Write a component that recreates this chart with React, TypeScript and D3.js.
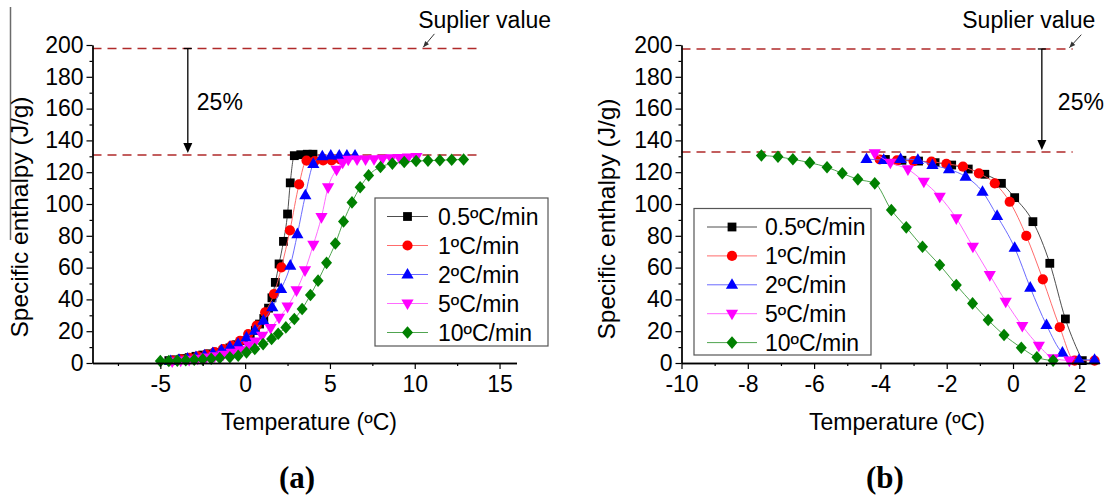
import React, { useEffect, useRef } from "react";
import * as d3 from "d3";

const seriesNames = ["0.5ºC/min", "1ºC/min", "2ºC/min", "5ºC/min", "10ºC/min"];
const markerColors = ["#000000", "#ff0000", "#0000ff", "#ff00ff", "#008000"];
const lineColors = ["#3a3a3a", "#ff5a5a", "#5a5aff", "#ff5aff", "#3c9a3c"];
const markerKinds = ["square", "circle", "triangleUp", "triangleDown", "diamond"];

// Panel (a): heating curves
const aTemp05 = [-4.5, -4.1, -3.7, -3.3, -2.9, -2.5, -2.1, -1.7, -1.3, -0.9, -0.5, -0.1, 0.3, 0.6, 0.85, 1.1, 1.38, 1.58, 1.78, 2.0, 2.26, 2.5, 2.66, 2.9, 3.28, 3.66, 4.0];
const aEnth05 = [1.5, 2, 2.8, 3.4, 4.2, 5, 5.8, 6.7, 7.8, 9.5, 11.5, 14, 17, 20.5, 24.5, 28, 34.5, 41, 50.7, 62.3, 76.5, 93.7, 113.3, 130.4, 131, 131.3, 131.3];
const aTemp1 = [-4.3, -3.8, -3.3, -2.8, -2.3, -1.8, -1.3, -0.8, -0.3, 0.18, 0.68, 1.18, 1.7, 2.14, 2.64, 3.18, 3.62, 4.1, 4.6, 5.1, 5.6];
const aEnth1 = [1.5, 2.3, 3.2, 4.2, 5.3, 6.8, 8.7, 11, 14, 18.2, 23.5, 31.9, 43.4, 60.2, 83.4, 112.4, 127.3, 127, 127.5, 127.5, 128];
const aTemp2 = [-4.4, -3.9, -3.4, -2.9, -2.4, -1.9, -1.4, -0.9, -0.42, 0.08, 0.58, 1.08, 1.6, 2.12, 2.66, 3.08, 3.55, 4.02, 4.55, 5.05, 5.55, 6.0, 6.48];
const aEnth2 = [1.2, 2, 2.8, 3.7, 4.8, 6.2, 8, 10, 12, 16, 20.3, 26.6, 35, 46.5, 61.2, 81, 105.5, 125.2, 130, 130.5, 130.5, 130.5, 130.5];
const aTemp5 = [-4.3, -3.8, -3.3, -2.8, -2.3, -1.8, -1.3, -0.8, -0.3, 0.2, 0.6, 1.0, 1.5, 2.0, 2.5, 3.03, 3.53, 4.02, 4.5, 4.89, 5.39, 5.75, 6.08, 6.6, 7.1, 7.6, 8.1, 8.6, 9.1, 9.6, 10.1];
const aEnth5 = [1, 1.5, 2, 2.7, 3.4, 4.2, 5.2, 6.5, 8, 11, 13.5, 17.2, 22, 28.5, 35.5, 45.7, 58.3, 74.3, 91.8, 110.5, 121.6, 126, 127.9, 128, 128, 128.2, 128.5, 128.7, 129, 129.2, 129.5];
const aTemp10 = [-5.0, -4.5, -4.0, -3.5, -3.0, -2.5, -2.0, -1.5, -0.9, -0.41, 0.08, 0.57, 1.06, 1.56, 1.95, 2.4, 2.9, 3.36, 3.85, 4.3, 4.8, 5.32, 5.8, 6.3, 6.78, 7.28, 7.98, 8.68, 9.38, 10.08, 10.78, 11.48, 12.18, 12.88];
const aEnth10 = [1.2, 1.3, 1.5, 1.7, 2, 2.3, 2.7, 3.1, 3.6, 4.6, 6.7, 8.8, 11.9, 15.1, 18.4, 22.4, 27.7, 34, 42.8, 51.8, 63, 75.2, 89, 101, 110.5, 118, 123.3, 125.4, 126.4, 127, 127.3, 127.5, 127.8, 128];

// Panel (b): cooling curves
const bTemp05 = [-3.85, -3.35, -2.85, -2.35, -1.85, -1.35, -0.85, -0.35, 0.05, 0.6, 1.11, 1.58, 2.09];
const bEnth05 = [128, 127.5, 127, 126, 124.5, 122, 118.7, 113, 104, 88.9, 62.7, 27.7, 1.5];
const bTemp1 = [-4.02, -3.5, -3.0, -2.46, -2.01, -1.51, -1.03, -0.55, -0.1, 0.4, 0.9, 1.41, 1.86, 2.46];
const bEnth1 = [128, 127.5, 127, 126.6, 125.2, 123.5, 119.3, 113, 101.4, 79.9, 52.6, 22.5, 1.5, 1.5];
const bTemp2 = [-4.42, -3.9, -3.39, -2.87, -2.43, -1.93, -1.43, -0.92, -0.48, 0.05, 0.52, 1.01, 1.49, 1.99, 2.46];
const bEnth2 = [128.3, 127.7, 128.3, 127.7, 124.5, 121.8, 117.2, 107.7, 92.5, 72.5, 47.4, 23.9, 6.5, 2, 2];
const bTemp5 = [-4.17, -3.7, -3.17, -2.69, -2.21, -1.71, -1.21, -0.7, -0.22, 0.28, 0.78, 1.21, 1.7];
const bEnth5 = [131.9, 126, 121.8, 114, 104.6, 91, 73.1, 55.3, 38.6, 23.3, 10.9, 3, 1.5];
const bTemp10 = [-7.59, -7.09, -6.64, -6.13, -5.61, -5.15, -4.68, -4.17, -3.67, -3.22, -2.73, -2.21, -1.71, -1.22, -0.75, -0.27, 0.25, 0.72, 1.21];
const bEnth10 = [130.5, 129.7, 128.1, 126, 123.1, 119.3, 115.5, 113, 96.2, 85.3, 73.1, 61.6, 49, 37.5, 27, 17.6, 9.6, 3.6, 1.5];

const yTicks = [0, 20, 40, 60, 80, 100, 120, 140, 160, 180, 200];
const yMinorTicks = [10, 30, 50, 70, 90, 110, 130, 150, 170, 190];
const aXTicks = [-5, 0, 5, 10, 15];
const aXMinorTicks = [-7.5, -2.5, 2.5, 7.5, 12.5];
const bXTicks = [-10, -8, -6, -4, -2, 0, 2];
const bXMinorTicks = [-9, -7, -5, -3, -1, 1];

const supplierValues = [197.8, 197.5];
const plateauValues = [130.8, 132.7];
const reductionLabel = "25%";
const supplierLabel = "Suplier value";
const panelLabels = ["(a)", "(b)"];
const xTitle = "Temperature (ºC)";
const yTitle = "Specific enthalpy (J/g)";

const FONT = "'Liberation Sans', Arial, Helvetica, sans-serif";

function markerPath(kind: string): string {
  switch (kind) {
    case "square":
      return "M-4.4,-4.4H4.4V4.4H-4.4Z";
    case "circle":
      return d3.symbol(d3.symbolCircle, Math.PI * 5.1 * 5.1)() as string;
    case "triangleUp":
      return "M0,-6.6L6.1,4L-6.1,4Z";
    case "triangleDown":
      return "M0,6.6L6.1,-4L-6.1,-4Z";
    default:
      return "M0,-6.3L5.5,0L0,6.3L-5.5,0Z";
  }
}

const panels = [
  {
    xDomain: [-9, 16],
    xRange: [92.5, 516.5],
    xTicks: aXTicks,
    xMinor: aXMinorTicks,
    temps: [aTemp05, aTemp1, aTemp2, aTemp5, aTemp10],
    enths: [aEnth05, aEnth1, aEnth2, aEnth5, aEnth10],
    dashEnd: 13.85,
    arrowX: -3.38,
    pctDx: 9,
    supplierTextX: 10.2,
    pointerFrom: [11.16, 207],
    pointerTo: [10.5, 198.6],
    legend: { x0: 375, x1: 548, y0: 198, y1: 346, lx0: 387, lx1: 428, tx: 438, r0: 216.5, dr: 29 },
    yTitleX: 28,
    yTitleY: 217,
    xTitleX: 309,
    labelX: 297,
  },
  {
    xDomain: [-10, 2.6],
    xRange: [681.5, 1099.2],
    xTicks: bXTicks,
    xMinor: bXMinorTicks,
    temps: [bTemp05, bTemp1, bTemp2, bTemp5, bTemp10],
    enths: [bEnth05, bEnth1, bEnth2, bEnth5, bEnth10],
    dashEnd: 1.8,
    arrowX: 0.87,
    pctDx: 16,
    supplierTextX: -1.53,
    pointerFrom: [2.06, 206.5],
    pointerTo: [1.7, 198.3],
    legend: { x0: 694, x1: 871, y0: 208.5, y1: 355, lx0: 707, lx1: 757, tx: 765, r0: 227, dr: 28.9 },
    yTitleX: 615,
    yTitleY: 219,
    xTitleX: 897,
    labelX: 885,
  },
];

export default function App() {
  const ref = useRef<SVGSVGElement>(null);

  useEffect(() => {
    const svg = d3.select(ref.current);
    svg.selectAll("*").remove();
    svg.append("rect").attr("width", 1110).attr("height", 498).attr("fill", "#ffffff");

    const y = d3.scaleLinear().domain([0, 200]).range([363, 45]);

    // scan artifact line at the far left
    svg.append("line").attr("x1", 10.5).attr("x2", 10.5).attr("y1", 7).attr("y2", 240)
      .attr("stroke", "#6b6b6b").attr("stroke-width", 1.5);

    panels.forEach((p, pi) => {
      const x = d3.scaleLinear().domain(p.xDomain).range(p.xRange);
      const g = svg.append("g");

      // dashed reference lines
      [supplierValues[pi], plateauValues[pi]].forEach((v) => {
        g.append("line")
          .attr("x1", x(p.xDomain[0])).attr("x2", x(p.dashEnd))
          .attr("y1", y(v)).attr("y2", y(v))
          .attr("stroke", "#b02a2a").attr("stroke-width", 1.6)
          .attr("stroke-dasharray", "9,6");
      });

      // 25% arrow
      const ax = x(p.arrowX);
      const aTop = y(supplierValues[pi]);
      const aTip = y(plateauValues[pi]) - 2;
      g.append("line").attr("x1", ax - 4).attr("x2", ax + 4).attr("y1", aTop).attr("y2", aTop)
        .attr("stroke", "#000").attr("stroke-width", 1.3);
      g.append("line").attr("x1", ax).attr("x2", ax).attr("y1", aTop).attr("y2", aTip - 8)
        .attr("stroke", "#000").attr("stroke-width", 1.3);
      g.append("path")
        .attr("d", `M${ax - 4.5},${aTip - 10}L${ax + 4.5},${aTip - 10}L${ax},${aTip}Z`)
        .attr("fill", "#000");
      g.append("text").attr("x", ax + p.pctDx).attr("y", 110)
        .attr("font-family", FONT).attr("font-size", 23).attr("fill", "#000")
        .text(reductionLabel);

      // supplier label and pointer
      g.append("text").attr("x", x(p.supplierTextX)).attr("y", 28)
        .attr("font-family", FONT).attr("font-size", 23).attr("fill", "#000")
        .text(supplierLabel);
      const fx = x(p.pointerFrom[0]), fy = y(p.pointerFrom[1]);
      const tx = x(p.pointerTo[0]), ty = y(p.pointerTo[1]);
      g.append("line").attr("x1", fx).attr("y1", fy).attr("x2", tx).attr("y2", ty)
        .attr("stroke", "#333").attr("stroke-width", 1);
      const ang = Math.atan2(ty - fy, tx - fx);
      const hl = 6, hw = 2.5;
      const bx = tx - hl * Math.cos(ang), by = ty - hl * Math.sin(ang);
      g.append("path")
        .attr("d", `M${tx},${ty}L${bx - hw * Math.sin(ang)},${by + hw * Math.cos(ang)}L${bx + hw * Math.sin(ang)},${by - hw * Math.cos(ang)}Z`)
        .attr("fill", "#333");

      // series lines
      const line = d3.line<[number, number]>()
        .x((d) => x(d[0])).y((d) => y(d[1]))
        .curve(d3.curveMonotoneX);
      p.temps.forEach((ts, i) => {
        const pts: [number, number][] = ts.map((t, j) => [t, p.enths[i][j]]);
        g.append("path").attr("d", line(pts) as string)
          .attr("fill", "none").attr("stroke", lineColors[i]).attr("stroke-width", 0.9);
        g.append("g").selectAll("path").data(pts).join("path")
          .attr("d", markerPath(markerKinds[i]))
          .attr("transform", (d) => `translate(${x(d[0])},${y(d[1])})`)
          .attr("fill", markerColors[i]);
      });

      // axes
      const styleAxis = (sel: any) => {
        sel.selectAll("path.domain").attr("stroke", "#000").attr("stroke-width", 1.3);
        sel.selectAll(".tick line").attr("stroke", "#000").attr("stroke-width", 1.2);
        sel.selectAll("text").attr("font-family", FONT).attr("font-size", 23).attr("fill", "#000");
      };
      const xAxisG = g.append("g").attr("transform", `translate(0,${y(0)})`)
        .call(d3.axisBottom(x).tickValues(p.xTicks).tickSize(6).tickSizeOuter(0).tickPadding(7)
          .tickFormat((d: any) => String(d)));
      styleAxis(xAxisG);
      const xMinorG = g.append("g").attr("transform", `translate(0,${y(0)})`)
        .call(d3.axisBottom(x).tickValues(p.xMinor).tickSize(3).tickSizeOuter(0).tickFormat(() => ""));
      styleAxis(xMinorG);
      const yAxisG = g.append("g").attr("transform", `translate(${p.xRange[0]},0)`)
        .call(d3.axisLeft(y).tickValues(yTicks).tickSize(6).tickSizeOuter(0).tickPadding(3)
          .tickFormat((d: any) => String(d)));
      styleAxis(yAxisG);
      const yMinorG = g.append("g").attr("transform", `translate(${p.xRange[0]},0)`)
        .call(d3.axisLeft(y).tickValues(yMinorTicks).tickSize(3).tickSizeOuter(0).tickFormat(() => ""));
      styleAxis(yMinorG);

      // titles
      g.append("text").attr("x", p.xTitleX).attr("y", 430).attr("text-anchor", "middle")
        .attr("font-family", FONT).attr("font-size", 23).attr("fill", "#000").text(xTitle);
      g.append("text")
        .attr("transform", `translate(${p.yTitleX},${p.yTitleY}) rotate(-90)`)
        .attr("text-anchor", "middle")
        .attr("font-family", FONT).attr("font-size", 24.5).attr("fill", "#000").text(yTitle);
      g.append("text").attr("x", p.labelX).attr("y", 488).attr("text-anchor", "middle")
        .attr("font-family", "'Liberation Serif', 'Times New Roman', serif")
        .attr("font-weight", "bold").attr("font-size", 31).attr("fill", "#000").text(panelLabels[pi]);

      // legend
      const L = p.legend;
      g.append("rect").attr("x", L.x0).attr("y", L.y0).attr("width", L.x1 - L.x0).attr("height", L.y1 - L.y0)
        .attr("fill", "#fff").attr("stroke", "#555").attr("stroke-width", 1.2);
      seriesNames.forEach((name, i) => {
        const ry = L.r0 + i * L.dr;
        g.append("line").attr("x1", L.lx0).attr("x2", L.lx1).attr("y1", ry).attr("y2", ry)
          .attr("stroke", lineColors[i]).attr("stroke-width", 0.9);
        g.append("path").attr("d", markerPath(markerKinds[i]))
          .attr("transform", `translate(${(L.lx0 + L.lx1) / 2},${ry})`).attr("fill", markerColors[i]);
        g.append("text").attr("x", L.tx).attr("y", ry).attr("dy", "0.35em")
          .attr("font-family", FONT).attr("font-size", 23).attr("fill", "#000").text(name);
      });
    });
  }, []);

  return (
    <svg
      ref={ref}
      width={1110}
      height={498}
      style={{ position: "absolute", left: 0, top: 0, display: "block" }}
    />
  );
}
